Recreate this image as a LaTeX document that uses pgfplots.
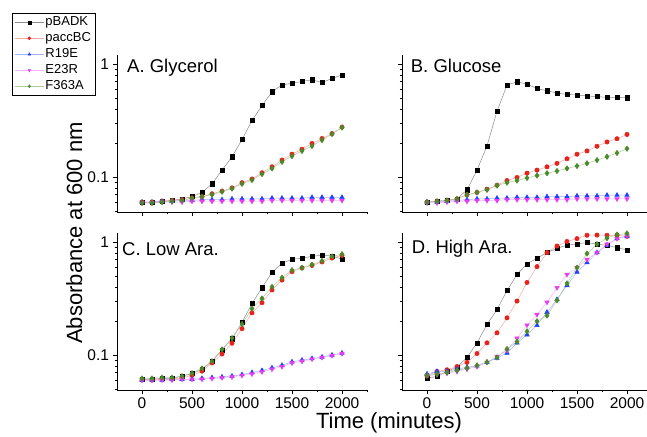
\documentclass[border=0pt]{standalone}
\usepackage{fontspec}
\setmainfont{Liberation Sans}
\usepackage{pgfplots}
\usepackage{pgfplotstable}
\pgfplotsset{compat=1.18}

\definecolor{Cred}{HTML}{E8221B}
\definecolor{Cblue}{HTML}{1F3FFF}
\definecolor{Cmag}{HTML}{E83CF0}
\definecolor{Cgreen}{HTML}{4A8A2A}

% time (min), pBADK, paccBC, R19E, E23R, F363A
\pgfplotstableread{
t    k      r      b      m      g
0    0.060  0.060  0.060  0.059  0.059
100  0.060  0.060  0.060  0.059  0.059
200  0.061  0.061  0.061  0.060  0.060
300  0.062  0.062  0.061  0.060  0.061
400  0.064  0.063  0.062  0.060  0.062
500  0.067  0.065  0.062  0.061  0.065
600  0.073  0.067  0.063  0.061  0.067
700  0.087  0.071  0.063  0.061  0.070
800  0.115  0.075  0.063  0.061  0.074
900  0.151  0.080  0.064  0.061  0.079
1000 0.214  0.089  0.064  0.061  0.087
1100 0.316  0.096  0.064  0.061  0.094
1200 0.428  0.109  0.064  0.061  0.106
1300 0.567  0.123  0.065  0.062  0.119
1400 0.650  0.141  0.065  0.062  0.136
1500 0.676  0.159  0.065  0.062  0.153
1600 0.700  0.176  0.065  0.062  0.170
1700 0.724  0.198  0.066  0.062  0.188
1800 0.686  0.219  0.066  0.062  0.212
1900 0.743  0.242  0.066  0.062  0.240
2000 0.800  0.276  0.066  0.062  0.274
}\glycerol

\pgfplotstableread{
t    k      r      b      m      g
0    0.060  0.060  0.060  0.059  0.060
100  0.061  0.061  0.060  0.059  0.061
200  0.062  0.062  0.061  0.060  0.062
300  0.064  0.064  0.062  0.061  0.064
400  0.077  0.0695 0.063  0.061  0.0695
500  0.115  0.073  0.064  0.062  0.073
600  0.188  0.078  0.064  0.062  0.077
700  0.382  0.0845 0.065  0.062  0.084
800  0.650  0.093  0.065  0.063  0.089
900  0.695  0.099  0.066  0.063  0.093
1000 0.664  0.108  0.066  0.063  0.098
1100 0.607  0.115  0.066  0.063  0.103
1200 0.579  0.123  0.067  0.063  0.108
1300 0.553  0.132  0.067  0.063  0.113
1400 0.538  0.145  0.067  0.063  0.119
1500 0.531  0.159  0.068  0.064  0.125
1600 0.521  0.170  0.068  0.064  0.132
1700 0.514  0.187  0.068  0.064  0.141
1800 0.506  0.204  0.069  0.064  0.151
1900 0.506  0.218  0.069  0.064  0.163
2000 0.503  0.238  0.069  0.064  0.178
}\glucose

\pgfplotstableread{
t    k      r      b      m      g
0    0.061  0.060  0.060  0.060  0.062
100  0.061  0.060  0.060  0.060  0.062
200  0.062  0.061  0.060  0.060  0.063
300  0.062  0.061  0.061  0.060  0.063
400  0.065  0.063  0.061  0.061  0.065
500  0.0686 0.066  0.061  0.061  0.069
600  0.0745 0.072  0.062  0.061  0.076
700  0.088  0.085  0.063  0.062  0.088
800  0.111  0.102  0.064  0.063  0.112
900  0.139  0.127  0.065  0.064  0.141
1000 0.194  0.171  0.067  0.066  0.188
1100 0.285  0.236  0.070  0.068  0.257
1200 0.394  0.290  0.073  0.071  0.316
1300 0.537  0.376  0.077  0.075  0.400
1400 0.649  0.460  0.081  0.079  0.483
1500 0.700  0.546  0.087  0.085  0.563
1600 0.720  0.590  0.090  0.088  0.590
1700 0.745  0.620  0.093  0.092  0.630
1800 0.766  0.665  0.096  0.095  0.680
1900 0.750  0.720  0.100  0.099  0.745
2000 0.705  0.760  0.104  0.103  0.780
}\lowara

\pgfplotstableread{
t    k      r      b      m      g
0    0.0625 0.0655 0.068  0.0655 0.066
100  0.0645 0.0715 0.0715 0.067  0.068
200  0.0715 0.074  0.0715 0.069  0.070
300  0.078  0.079  0.075  0.0715 0.073
400  0.095  0.086  0.078  0.075  0.0765
500  0.128  0.103  0.080  0.079  0.081
600  0.186  0.128  0.086  0.086  0.0865
700  0.252  0.157  0.094  0.097  0.095
800  0.372  0.213  0.104  0.110  0.113
900  0.516  0.300  0.128  0.141  0.131
1000 0.640  0.438  0.151  0.184  0.162
1100 0.716  0.605  0.183  0.228  0.199
1200 0.805  0.805  0.239  0.293  0.223
1300 0.879  0.920  0.310  0.394  0.305
1400 0.935  1.010  0.412  0.516  0.430
1500 0.960  1.070  0.542  0.593  0.593
1600 0.989  1.146  0.656  0.700  0.790
1700 0.955  1.150  0.805  0.805  0.955
1800 0.935  1.146  0.940  0.955  1.080
1900 0.890  1.146  1.070  1.070  1.160
2000 0.850  1.120  1.130  1.130  1.190
}\highara

\pgfplotsset{
  longleg/.style={legend image code/.code={%
    \draw[mark repeat=2,mark phase=2,##1,mark size=1.5pt]
      plot coordinates {(0cm,0cm) (0.5cm,0cm) (1cm,0cm)};}},
  sK/.style={color=black!45, line width=0.5pt, mark=square*, mark size=2.1pt,
    mark options={draw=black, fill=black}, longleg},
  sR/.style={color=Cred!40, line width=0.5pt, mark=*, mark size=2.2pt,
    mark options={draw=Cred, fill=Cred}, longleg},
  sB/.style={color=Cblue!40, line width=0.5pt, mark=triangle*, mark size=2.6pt,
    mark options={draw=Cblue, fill=Cblue}, longleg},
  sM/.style={color=Cmag!40, line width=0.5pt, mark=triangle*, mark size=2.6pt,
    mark options={draw=Cmag, fill=Cmag, rotate=180}, longleg},
  sG/.style={color=Cgreen!45, line width=0.5pt, mark=diamond*, mark size=2.7pt,
    mark options={draw=Cgreen, fill=Cgreen}, longleg},
  every axis/.append style={
    scale only axis,
    height=157pt,
    ymode=log, ymin=0.049, ymax=1.2,
    xmin=-250,
    axis x line*=bottom, axis y line*=left,
    axis line style={black, line width=0.8pt},
    tick style={black, line width=0.8pt},
    tick align=outside,
    major tick length=4.5pt, minor tick length=2.5pt,
    xtick={0,500,1000,1500,2000},
    minor xtick={250,750,1250,1750,2250},
    ytick={0.1,1},
    minor ytick={0.05,0.06,0.07,0.08,0.09,0.2,0.3,0.4,0.5,0.6,0.7,0.8,0.9},
    ticklabel style={font=\fontsize{15.5}{16}\selectfont},
    clip=false,
  },
}

\newcommand{\panelplots}[1]{%
  \addplot[sK] table[x=t,y=k]{#1};
  \addplot[sR] table[x=t,y=r]{#1};
  \addplot[sB] table[x=t,y=b]{#1};
  \addplot[sM] table[x=t,y=m]{#1};
  \addplot[sG] table[x=t,y=g]{#1};
}

\begin{document}
\begin{tikzpicture}
\useasboundingbox (0pt,0pt) rectangle (647pt,436pt);

% A
\begin{axis}[at={(117pt,224pt)}, anchor=south west, width=250pt, xmax=2250,
  xticklabels={}, yticklabels={0.1,1},
  legend style={at={(-0.42,1.2675)}, anchor=north west, draw=black, line width=0.8pt,
    fill=white, inner xsep=2.5pt, inner ysep=1.2pt, row sep=0.6pt,
    font=\fontsize{13}{14}\selectfont,
    nodes={inner sep=1.6pt, text height=9.4pt, text depth=2.8pt}},
  legend cell align=left]
\panelplots{\glycerol}
\legend{pBADK,paccBC,R19E,E23R,F363A}
\node[anchor=base west, inner sep=0pt, xshift=10pt, yshift=-17.7pt,
  font=\fontsize{18.5}{20}\selectfont] at (rel axis cs:0,1) {A. Glycerol};
\end{axis}

% B
\begin{axis}[at={(402pt,224pt)}, anchor=south west, width=245pt, xmax=2200,
  xticklabels={}, yticklabels={}]
\panelplots{\glucose}
\node[anchor=base west, inner sep=0pt, xshift=8.7pt, yshift=-17.7pt,
  font=\fontsize{18.5}{20}\selectfont] at (rel axis cs:0,1) {B. Glucose};
\end{axis}

% C
\begin{axis}[at={(117pt,46pt)}, anchor=south west, width=250pt, xmax=2250,
  xticklabels={0,500,1000,1500,2000}, yticklabels={0.1,1}]
\panelplots{\lowara}
\node[anchor=base west, inner sep=0pt, xshift=5pt, yshift=-22pt,
  font=\fontsize{18.5}{20}\selectfont] at (rel axis cs:0,1) {C. Low Ara.};
\end{axis}

% D
\begin{axis}[at={(402pt,46pt)}, anchor=south west, width=245pt, xmax=2200,
  xticklabels={0,500,1000,1500,2000}, yticklabels={}]
\panelplots{\highara}
\node[anchor=base west, inner sep=0pt, xshift=9.7pt, yshift=-20.3pt,
  font=\fontsize{18.5}{20}\selectfont] at (rel axis cs:0,1) {D. High Ara.};
\end{axis}

\node[rotate=90, anchor=base, font=\fontsize{22}{24}\selectfont] at (82pt,203pt) {Absorbance at 600 nm};
\node[anchor=base, font=\fontsize{22}{24}\selectfont] at (389pt,8pt) {Time (minutes)};
\end{tikzpicture}
\end{document}
